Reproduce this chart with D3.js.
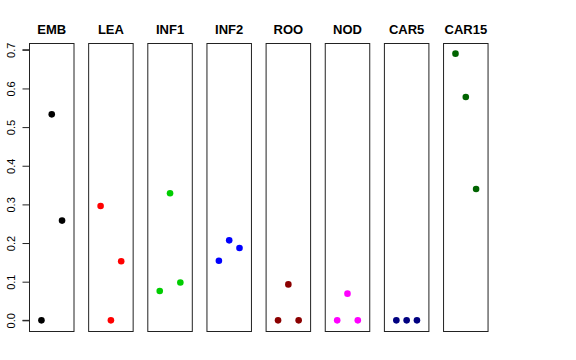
<!DOCTYPE html>
<html>
<head>
<meta charset="utf-8">
<script src="https://cdn.jsdelivr.net/npm/d3@7"></script>
<style>
  body { margin: 0; background: #fff; }
  text { font-family: "Liberation Sans", Arial, sans-serif; }
</style>
</head>
<body>
<script>
// panels, one per tissue
const tissues = ["EMB", "LEA", "INF1", "INF2", "ROO", "NOD", "CAR5", "CAR15"];
const colors = ["#000000", "#ff0000", "#00cd00", "#0000ff", "#8b0000", "#ff00ff", "#000080", "#006400"];
// three values per panel
const EMB = [0, 0.533, 0.258];
const LEA = [0.296, 0, 0.153];
const INF1 = [0.076, 0.329, 0.098];
const INF2 = [0.154, 0.207, 0.187];
const ROO = [0, 0.093, 0];
const NOD = [0, 0.069, 0];
const CAR5 = [0, 0, 0];
const CAR15 = [0.690, 0.578, 0.340];
const series = [EMB, LEA, INF1, INF2, ROO, NOD, CAR5, CAR15];
const yTicks = [0, 0.1, 0.2, 0.3, 0.4, 0.5, 0.6, 0.7];

const width = 576, height = 360;
const plotTop = 43, plotBottom = 331;
const panelW = 44.5, step = 59.15, left0 = 29;

const svg = d3.select("body").append("svg").attr("width", width).attr("height", height);

// R-style 4% padding on the y range
const y = d3.scaleLinear().domain([-0.0276, 0.7176]).range([plotBottom, plotTop]);
const x = d3.scaleLinear().domain([-0.16, 4.16]).range([0, panelW]);

series.forEach((vals, i) => {
    const g = svg.append("g").attr("transform", `translate(${left0 + i * step},0)`);

    g.append("rect")
        .attr("x", 0.5).attr("y", plotTop + 0.5)
        .attr("width", panelW).attr("height", plotBottom - plotTop)
        .attr("fill", "none").attr("stroke", "#222").attr("stroke-width", 1);

    g.append("text")
        .attr("x", panelW / 2 + 0.5).attr("y", 34)
        .attr("text-anchor", "middle")
        .attr("font-weight", "bold").attr("font-size", 13)
        .text(tissues[i]);

    g.selectAll("circle")
        .data(vals)
        .enter()
        .append("circle")
        .attr("cx", (d, j) => x(j + 1) + 0.5)
        .attr("cy", d => y(d))
        .attr("r", 3.3)
        .attr("fill", colors[i]);

    if (i === 0) {
        const ax = g.append("g").attr("transform", "translate(0.5,0)")
            .call(d3.axisLeft(y).tickValues(yTicks).tickFormat(d3.format(".1f")).tickSize(7).tickPadding(4));
        ax.select(".domain").attr("stroke", "#222")
            .attr("d", `M-7,${y(0)}H0V${y(0.7)}H-7`);
        ax.selectAll(".tick line").attr("stroke", "#222");
        ax.selectAll(".tick text")
            .attr("font-size", 11).attr("fill", "#000")
            .attr("transform", "rotate(-90)")
            .attr("x", 0).attr("y", -15)
            .attr("dy", 0)
            .attr("text-anchor", "middle");
    }
});
</script>
</body>
</html>
